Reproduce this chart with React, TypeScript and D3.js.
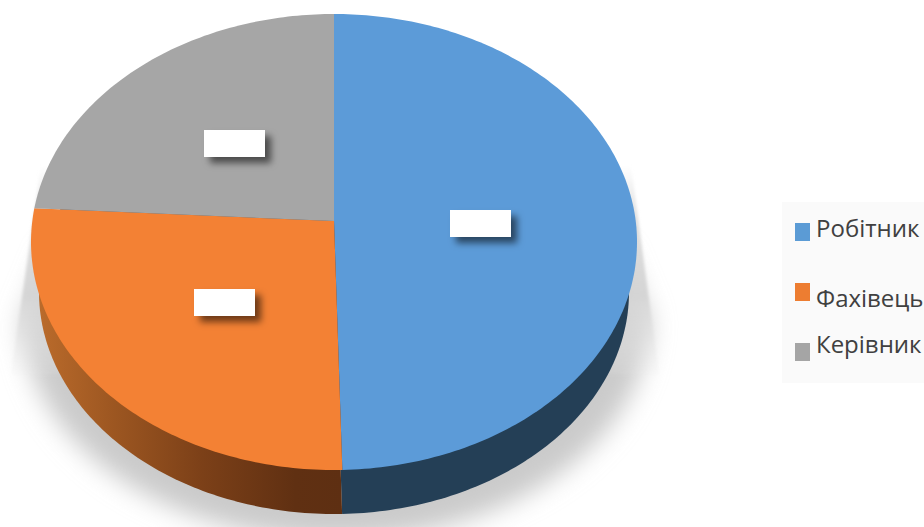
import React from "react";
import * as d3 from "d3";

const categories = ["Робітник", "Фахівець", "Керівник"];
const shares = [49.6, 26.3, 24.1];
const topColors = ["#5c9bd8", "#f38134", "#a6a6a6"];
const sideColors = ["#243f56", "url(#sideOrange)", "#5a5a5a"];
const legendColors = ["#5b9bd5", "#ed7d31", "#a5a5a5"];

const W = 924;
const H = 527;
const top = { cx: 334, cy: 242, rx: 303, ry: 228 };
const bottom = { cx: 334, cy: 292, rx: 295, ry: 222 };
const tilt = -0.092; // perspective: moves the pie's apex above the ellipse centre

type Ell = typeof top;

function project(e: Ell, angle: number, r = 1): [number, number] {
  const u = r * Math.sin(angle);
  const v = -r * Math.cos(angle);
  const d = 1 + tilt * v;
  return [
    e.cx + (e.rx * u * Math.sqrt(1 - tilt * tilt)) / d,
    e.cy + (e.ry * (v + tilt)) / d,
  ];
}

const pie = d3.pie<number>().sort(null).value((d) => d);
const arcs = pie(shares);
const line = d3.line();

function slicePath(e: Ell, a0: number, a1: number) {
  const n = Math.max(8, Math.ceil((a1 - a0) * 60));
  const rim = d3.range(n + 1).map((i) => project(e, a0 + ((a1 - a0) * i) / n));
  return line([project(e, 0, 0), ...rim]) + "Z";
}

const legendRows = [
  { square: 223, text: 237 },
  { square: 283, text: 307 },
  { square: 343, text: 353 },
];
const labelNudges = [[-4, 4], [2, 0], [1, 2]];

const shadowOutline = d3.range(0, 181).map((i): [number, number] => {
  const t = (i / 180) * Math.PI;
  return [336 + 314 * Math.cos(t), 318 + 222 * Math.sin(t)];
});

export default function App() {
  return (
    <svg
      width={W}
      height={H}
      viewBox={`0 0 ${W} ${H}`}
      style={{ position: "absolute", left: 0, top: 0, display: "block", background: "#fff" }}
    >
      <defs>
        <linearGradient id="sideOrange" gradientUnits="userSpaceOnUse" x1={31} x2={342} y1={0} y2={0}>
          <stop offset="0" stopColor="#bd6d2c" />
          <stop offset="0.27" stopColor="#9c5621" />
          <stop offset="0.55" stopColor="#7c4018" />
          <stop offset="0.85" stopColor="#603012" />
          <stop offset="1" stopColor="#5e2f12" />
        </linearGradient>
        <linearGradient id="wedgeFade" gradientUnits="userSpaceOnUse" x1={0} x2={0} y1={165} y2={385}>
          <stop offset="0" stopColor="#d8d8d8" stopOpacity="0" />
          <stop offset="0.25" stopColor="#d6d6d6" stopOpacity="0.8" />
          <stop offset="0.6" stopColor="#d4d4d4" stopOpacity="0.95" />
          <stop offset="1" stopColor="#eeeeee" stopOpacity="0" />
        </linearGradient>
        <filter id="soft" x="-15%" y="-15%" width="130%" height="140%">
          <feGaussianBlur stdDeviation="12" />
        </filter>
        <filter id="edge" x="-5%" y="-5%" width="110%" height="110%">
          <feGaussianBlur stdDeviation="1.6" />
        </filter>
        <filter id="labelShadow" x="-30%" y="-50%" width="170%" height="240%">
          <feDropShadow dx="6" dy="6" stdDeviation="3.5" floodColor="#000" floodOpacity="0.55" />
        </filter>
      </defs>

      <path
        d={line([[50, 250], [622, 250], [650, 318], ...shadowOutline, [22, 318]])! + "Z"}
        fill="#cbcbcb"
        filter="url(#soft)"
      />
      <path
        d={line([[41, 165], [631, 165], [659, 375], [11, 375]])! + "Z"}
        fill="url(#wedgeFade)"
        filter="url(#edge)"
      />

      {arcs.map((a, i) => (
        <path key={"s" + i} d={slicePath(bottom, a.startAngle, a.endAngle)} fill={sideColors[i]} />
      ))}
      {arcs.map((a, i) => (
        <path key={"t" + i} d={slicePath(top, a.startAngle, a.endAngle)} fill={topColors[i]} />
      ))}

      {arcs.map((a, i) => {
        const [x, y] = project(top, (a.startAngle + a.endAngle) / 2, 0.5);
        return (
          <rect
            key={"l" + i}
            x={Math.round(x + labelNudges[i][0] - 30.5)}
            y={Math.round(y + labelNudges[i][1] - 13.5)}
            width={61}
            height={27}
            fill="#fff"
            filter="url(#labelShadow)"
          />
        );
      })}

      <rect x={782} y={202} width={142} height={181} fill="#fafafa" />
      {categories.map((c, i) => (
        <g key={c}>
          <rect x={795} y={legendRows[i].square} width={15} height={18} fill={legendColors[i]} />
          <text
            x={816}
            y={legendRows[i].text}
            fontFamily="'Open Sans', sans-serif"
            fontSize={24}
            fill="#404040"
          >
            {c}
          </text>
        </g>
      ))}
    </svg>
  );
}
